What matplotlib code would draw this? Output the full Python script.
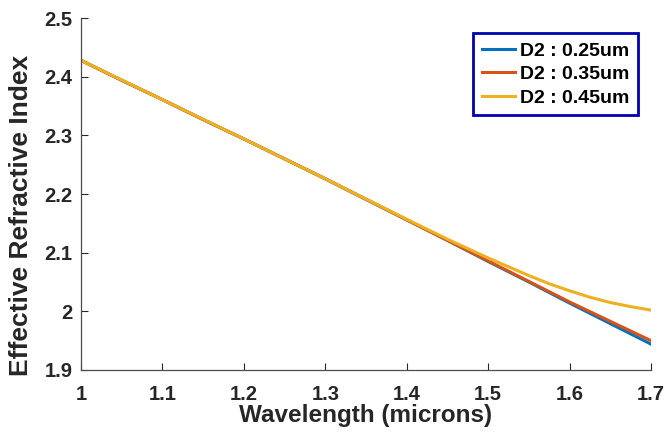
import matplotlib.pyplot as plt

wavelength = [1.0, 1.05, 1.1, 1.15, 1.2, 1.25, 1.3, 1.35, 1.4, 1.45, 1.5, 1.55, 1.6, 1.65, 1.7]
neff_025 = [2.428, 2.394, 2.361, 2.327, 2.294, 2.260, 2.226, 2.191, 2.156, 2.121,
            2.085, 2.050, 2.014, 1.979, 1.944]
neff_035 = [2.428, 2.394, 2.361, 2.327, 2.294, 2.260, 2.226, 2.191, 2.156, 2.121,
            2.086, 2.051, 2.016, 1.983, 1.950]
# the 0.45um curve bends near the end, so it is sampled more finely there
wavelength_045 = [1.0, 1.1, 1.2, 1.3, 1.4, 1.425, 1.45, 1.475, 1.5, 1.525, 1.55,
                  1.575, 1.6, 1.625, 1.65, 1.675, 1.7]
neff_045 = [2.428, 2.361, 2.294, 2.226, 2.157, 2.140, 2.123, 2.107, 2.091, 2.076,
            2.061, 2.047, 2.035, 2.024, 2.015, 2.008, 2.002]
labels = ['D2 : 0.25um', 'D2 : 0.35um', 'D2 : 0.45um']
xticks = [1, 1.1, 1.2, 1.3, 1.4, 1.5, 1.6, 1.7]
xticklabels = ['1', '1.1', '1.2', '1.3', '1.4', '1.5', '1.6', '1.7']
yticks = [1.9, 2.0, 2.1, 2.2, 2.3, 2.4, 2.5]
yticklabels = ['1.9', '2', '2.1', '2.2', '2.3', '2.4', '2.5']

plt.rcParams['font.family'] = ['Liberation Sans', 'DejaVu Sans']
plt.rcParams['font.weight'] = 'bold'

fig = plt.figure(figsize=(6.67, 4.42), dpi=100)
ax = fig.add_axes([0.1214, 0.163, 0.8546, 0.796])

ax.plot(wavelength, neff_025, color='#0072BD', lw=2.2, label=labels[0])
ax.plot(wavelength, neff_035, color='#D95319', lw=2.2, label=labels[1])
ax.plot(wavelength_045, neff_045, color='#EDB120', lw=2.2, label=labels[2])

ax.set_xlim(1, 1.7)
ax.set_ylim(1.9, 2.5)
ax.set_xticks(xticks)
ax.set_xticklabels(xticklabels)
ax.set_yticks(yticks)
ax.set_yticklabels(yticklabels)
ax.tick_params(direction='in', length=5, width=0.8, colors='#262626', labelsize=14.5)
ax.tick_params(axis='x', pad=11)
ax.tick_params(axis='y', pad=6)
for s in ['top', 'right']:
    ax.spines[s].set_visible(False)
for s in ['left', 'bottom']:
    ax.spines[s].set_color('#4d4d4d')
    ax.spines[s].set_linewidth(0.9)

ax.set_xlabel('Wavelength (microns)', fontsize=17.5, fontweight='bold', color='#262626', labelpad=0)
ax.set_ylabel('Effective Refractive Index', fontsize=19, fontweight='bold', color='#262626')
ax.yaxis.set_label_coords(-0.085, 0.44)

leg = ax.legend(loc='upper right', bbox_to_anchor=(0.977, 0.957), fontsize=14, frameon=True,
                fancybox=False, handlelength=1.7, handletextpad=0.25, borderpad=0.45,
                labelspacing=0.3, borderaxespad=0)
leg.get_frame().set_edgecolor('#0000b0')
leg.get_frame().set_linewidth(2)
leg.get_frame().set_alpha(1)

fig.savefig('out.png', dpi=100)
